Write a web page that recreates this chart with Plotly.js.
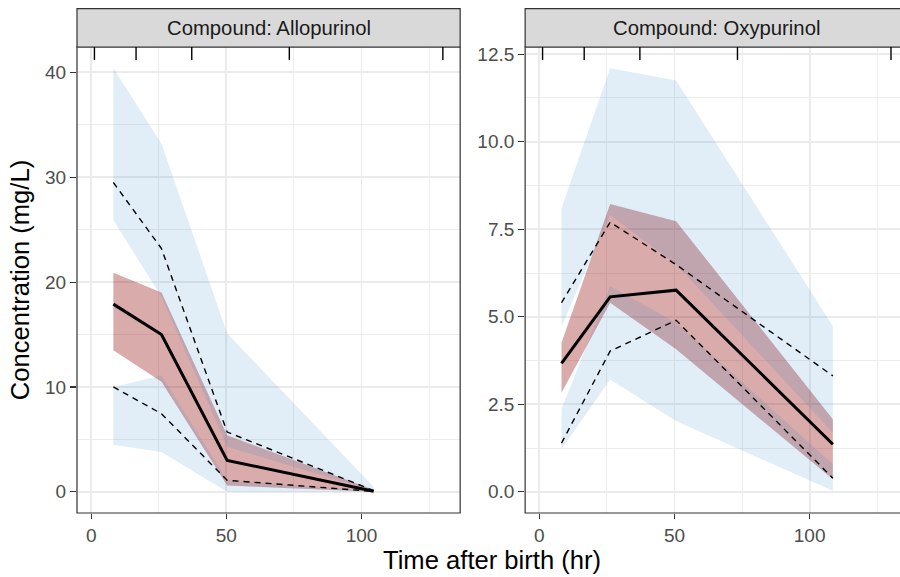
<!DOCTYPE html>
<html>
<head>
<meta charset="utf-8">
<script src="https://cdn.plot.ly/plotly-3.0.1.min.js"></script>
<style>
html,body{margin:0;padding:0;background:#ffffff;}
#chart{width:900px;height:577px;}
</style>
</head>
<body>
<div id="chart"></div>
<script>
// ---------------- data ----------------
const compounds = ["Allopurinol", "Oxypurinol"];
const binEdges = [1.2, 16.6, 37.2, 73.3, 130.1];

// Allopurinol
const alloTime      = [8.2, 26.0, 50.3, 104.5];
const alloObsMedian = [17.9, 15.0, 3.0, 0.06];
const alloObsHigh   = [29.5, 23.2, 5.7, 0.12];
const alloObsLow    = [10.0, 7.45, 1.1, 0.04];
const alloMedCiLow  = [13.5, 10.5, 0.6, 0.0];
const alloMedCiHigh = [20.9, 19.0, 5.4, 0.2];
const alloHiCiLow   = [25.9, 18.6, 4.3, 0.1];
const alloHiCiHigh  = [40.4, 33.2, 15.1, 0.45];
const alloLoCiLow   = [4.5, 3.8, 0.0, 0.0];
const alloLoCiHigh  = [10.0, 11.1, 1.1, 0.05];

// Oxypurinol
const oxyTime      = [8.2, 26.2, 50.6, 108.6];
const oxyObsMedian = [3.67, 5.57, 5.76, 1.36];
const oxyObsHigh   = [5.4, 7.7, 6.49, 3.31];
const oxyObsLow    = [1.39, 4.02, 4.9, 0.39];
const oxyMedCiLow  = [2.83, 5.4, 4.07, 0.36];
const oxyMedCiHigh = [4.26, 8.22, 7.73, 2.07];
const oxyHiCiLow   = [4.73, 7.91, 6.5, 1.69];
const oxyHiCiHigh  = [8.1, 12.1, 11.75, 4.73];
const oxyLoCiLow   = [1.22, 3.21, 2.02, 0.03];
const oxyLoCiHigh  = [2.36, 5.87, 4.83, 0.79];

const alloYTicks = [0, 10, 20, 30, 40];
const oxyYTicks  = [0, 2.5, 5, 7.5, 10, 12.5];
const xTicks     = [0, 50, 100];

// ---------------- styling / geometry ----------------
const W = 900, H = 577;
const panelLeft = 76.7, panelTop = 46.7, panelBottom = 513.3;
const leftPanelRight = 460, rightPanelLeft = 525, rightPanelRight = 907;
const plotW = W - panelLeft, plotH = panelBottom - panelTop;
const px = p => (p - panelLeft) / plotW;
const py = p => (panelBottom - p) / plotH;

const FONT = "Liberation Sans, Arial, Helvetica, sans-serif";
const BLUE = "rgba(51,136,204,0.15)";
const RED  = "rgba(139,0,0,0.33)";

function band(x, lo, hi, xa, ya, color) {
  return {
    type: "scatter", mode: "lines", xaxis: xa, yaxis: ya,
    x: x.concat(x.slice().reverse()),
    y: lo.concat(hi.slice().reverse()),
    fill: "toself", fillcolor: color, line: {width: 0, color: "rgba(0,0,0,0)"},
    hoverinfo: "skip", showlegend: false
  };
}
function line(x, y, xa, ya, width, dash) {
  return {
    type: "scatter", mode: "lines", xaxis: xa, yaxis: ya, x: x, y: y,
    line: {color: "#000000", width: width, dash: dash},
    hoverinfo: "skip", showlegend: false
  };
}

const sets = [
  {xa: "x", ya: "y", t: alloTime, med: alloObsMedian, hi: alloObsHigh, lo: alloObsLow,
   mlo: alloMedCiLow, mhi: alloMedCiHigh, hlo: alloHiCiLow, hhi: alloHiCiHigh, llo: alloLoCiLow, lhi: alloLoCiHigh},
  {xa: "x2", ya: "y2", t: oxyTime, med: oxyObsMedian, hi: oxyObsHigh, lo: oxyObsLow,
   mlo: oxyMedCiLow, mhi: oxyMedCiHigh, hlo: oxyHiCiLow, hhi: oxyHiCiHigh, llo: oxyLoCiLow, lhi: oxyLoCiHigh}
];

const traces = [];
sets.forEach(s => {
  traces.push(band(s.t, s.mlo, s.mhi, s.xa, s.ya, RED));
  traces.push(band(s.t, s.hlo, s.hhi, s.xa, s.ya, BLUE));
  traces.push(band(s.t, s.llo, s.lhi, s.xa, s.ya, BLUE));
  traces.push(line(s.t, s.hi, s.xa, s.ya, 1.4, "6px,5px"));
  traces.push(line(s.t, s.lo, s.xa, s.ya, 1.4, "6px,5px"));
  traces.push(line(s.t, s.med, s.xa, s.ya, 3, "solid"));
});

const GRID = "#EBEBEB";
function xaxisDef(domain, range, anchor) {
  return {
    domain: domain, range: range, anchor: anchor,
    tickmode: "array", tickvals: xTicks, ticktext: xTicks.map(String),
    showgrid: true, gridcolor: GRID, gridwidth: 1.8,
    minor: {tickmode: "linear", tick0: 25, dtick: 50, showgrid: true, gridcolor: GRID, gridwidth: 0.9, ticks: ""},
    ticks: "outside", ticklen: 5, tickwidth: 1.1, tickcolor: "#333333",
    tickfont: {family: FONT, size: 19, color: "#4D4D4D"},
    zeroline: false, showline: false, fixedrange: true
  };
}
function yaxisDef(range, ticks, minorDtick, fmt, anchor) {
  return {
    domain: [0, 1], range: range, anchor: anchor,
    tickmode: "array", tickvals: ticks, ticktext: ticks.map(v => fmt ? v.toFixed(1) : String(v)),
    showgrid: true, gridcolor: GRID, gridwidth: 1.8,
    minor: {tickmode: "linear", tick0: minorDtick, dtick: minorDtick * 2, showgrid: true, gridcolor: GRID, gridwidth: 0.9, ticks: ""},
    ticks: "outside", ticklen: 6, tickwidth: 1.1, tickcolor: "#333333",
    tickfont: {family: FONT, size: 19, color: "#4D4D4D"},
    zeroline: false, showline: false, fixedrange: true
  };
}

const xRangeLeft  = [-5.25, 136.5];
const pxPerUnit = (leftPanelRight - panelLeft) / (xRangeLeft[1] - xRangeLeft[0]);
const xRangeRight = [-5.25, -5.25 + (W - rightPanelLeft) / pxPerUnit];

const yaxis = yaxisDef([-2.02, 42.42], alloYTicks, 5, false, "x");
yaxis.title = {text: "Concentration (mg/L)", font: {family: FONT, size: 25.6, color: "#000000"}, standoff: 8};

const layout = {
  width: W, height: H,
  margin: {l: panelLeft, r: 0, t: panelTop, b: H - panelBottom, pad: 0},
  paper_bgcolor: "#ffffff", plot_bgcolor: "#ffffff",
  showlegend: false, hovermode: false,
  font: {family: FONT},
  xaxis:  xaxisDef([0, px(leftPanelRight)], xRangeLeft, "y"),
  xaxis2: xaxisDef([px(rightPanelLeft), 1], xRangeRight, "y2"),
  yaxis:  yaxis,
  yaxis2: yaxisDef([-0.605, 12.705], oxyYTicks, 1.25, true, "x2"),
  shapes: [],
  annotations: []
};

// panel borders and strips
const panels = [[panelLeft, leftPanelRight], [rightPanelLeft, rightPanelRight]];
panels.forEach((p, i) => {
  layout.shapes.push({type: "rect", xref: "paper", yref: "paper", layer: "above",
    x0: px(p[0]), x1: px(p[1]), y0: 0, y1: 1, line: {color: "#333333", width: 1.2}, fillcolor: "rgba(0,0,0,0)"});
  layout.shapes.push({type: "rect", xref: "paper", yref: "paper", layer: "above",
    x0: px(p[0]), x1: px(p[1]), y0: 1, y1: py(8.3), line: {color: "#333333", width: 1.2}, fillcolor: "#D9D9D9"});
  layout.annotations.push({xref: "paper", yref: "paper", x: px((p[0] + p[1]) / 2), y: py(27.5),
    xanchor: "center", yanchor: "middle", showarrow: false,
    text: "Compound: " + compounds[i], font: {family: FONT, size: 20.3, color: "#1A1A1A"}});
});

// rug ticks (bin separators) at top of each panel
["x", "x2"].forEach((xa, i) => {
  const ya = i === 0 ? "y" : "y2";
  binEdges.forEach(b => {
    layout.shapes.push({type: "line", xref: xa, yref: ya + " domain", layer: "above",
      x0: b, x1: b, y0: 1, y1: 1 - 13 / plotH, line: {color: "#000000", width: 1.4}});
  });
});

// shared x-axis title
layout.annotations.push({xref: "paper", yref: "paper", x: px(492), y: py(560),
  xanchor: "center", yanchor: "middle", showarrow: false,
  text: "Time after birth (hr)", font: {family: FONT, size: 25.6, color: "#000000"}});

Plotly.newPlot("chart", traces, layout, {displayModeBar: false, staticPlot: true});
</script>
</body>
</html>
